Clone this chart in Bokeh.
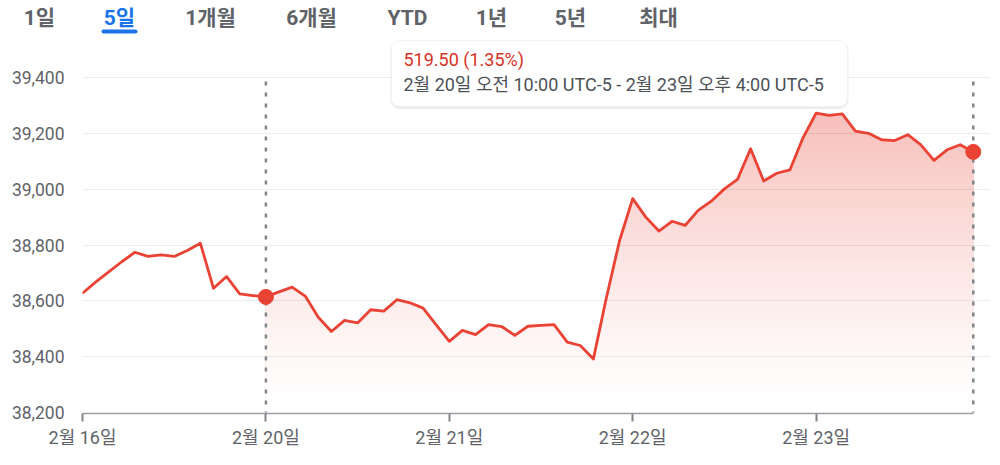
import numpy as np
from bokeh.plotting import figure
from bokeh.layouts import column, row
from bokeh.models import Range1d, FixedTicker, NumeralTickFormatter, Label, BoxAnnotation
from bokeh.core.properties import value
from bokeh.embed import file_html
from bokeh.resources import INLINE

# ---------------- data ----------------
values = [38627, 38667, 38704, 38740, 38774, 38759, 38765, 38759, 38780, 38806,
          38645, 38687, 38625, 38619,
          38614, 38632, 38649, 38617, 38541, 38490, 38530, 38521, 38568, 38563,
          38604, 38593, 38574, 38514,
          38455, 38494, 38479, 38515, 38508, 38476, 38509, 38512, 38515, 38452,
          38440, 38392, 38613, 38816,
          38966, 38900, 38850, 38885, 38870, 38924, 38957, 39001, 39035, 39145,
          39029, 39057, 39069, 39184,
          39272, 39264, 39270, 39208, 39200, 39177, 39174, 39195, 39159, 39103,
          39141, 39159, 39133.5]
day_labels = ["2월 16일", "2월 20일", "2월 21일", "2월 22일", "2월 23일"]
day_start_index = [0, 14, 28, 42, 56]
y_ticks = [38200, 38400, 38600, 38800, 39000, 39200, 39400]
tabs = ["1일", "5일", "1개월", "6개월", "YTD", "1년", "5년", "최대"]
selected_tab = "5일"
range_start_index = 14
change_text = "519.50 (1.35%)"
range_text = "2월 20일 오전 10:00 UTC-5 - 2월 23일 오후 4:00 UTC-5"

# ---------------- layout (screen px of the page) ----------------
PAGE_W = 1000
TAB_H = 36
X0, PX_PER_IDX = 82.0, 13.1          # screen x of index 0, px per sample
Y_REF_PX, Y_REF_VAL = 77.0, 39400.0  # screen y of the 39,400 gridline
UNIT_PER_PX = 1200.0 / 335.0
H = 465 - TAB_H
BL, BR, BT = 82, 10, 0
FRAME_BOTTOM_PX = 413
BB = H - (FRAME_BOTTOM_PX - TAB_H)

def dx(sx):
    return (sx - X0) / PX_PER_IDX

def dy(sy):
    return Y_REF_VAL - (sy - Y_REF_PX) * UNIT_PER_PX

RED = "#ea4335"
GREY = "#5f6368"
BLUE = "#1a73e8"
FONT = "Roboto, 'Noto Sans CJK KR'"

# ---------------- range tabs (top strip) ----------------
tab_centers_px = [39, 119, 210, 311, 407, 491, 570, 658]
t = figure(width=PAGE_W, height=TAB_H, x_range=Range1d(0, PAGE_W), y_range=Range1d(TAB_H, 0),
           output_backend="svg", toolbar_location=None, x_axis_type=None, y_axis_type=None,
           min_border_left=0, min_border_right=0, min_border_top=0, min_border_bottom=0)
t.outline_line_color = None
t.xgrid.grid_line_color = None
t.ygrid.grid_line_color = None
t.text(x=tab_centers_px, y=[17.5] * len(tabs), text=tabs,
       text_color=[BLUE if n == selected_tab else GREY for n in tabs],
       text_align="center", text_baseline="alphabetic",
       text_font=value(FONT), text_font_size="21px", text_font_style="bold")
sel_cx = tab_centers_px[tabs.index(selected_tab)]
t.segment(x0=[sel_cx - 16], x1=[sel_cx + 16], y0=[31], y1=[31],
          line_color=BLUE, line_width=4, line_cap="round")

# ---------------- main chart ----------------
frame_w = PAGE_W - BL - BR
frame_h = H - BT - BB
x_range = Range1d(0, frame_w / PX_PER_IDX)
y_top = dy(TAB_H + BT)
y_range = Range1d(y_top - frame_h * UNIT_PER_PX, y_top)

p = figure(width=PAGE_W, height=H, x_range=x_range, y_range=y_range,
           output_backend="svg", toolbar_location=None,
           min_border_left=BL, min_border_right=BR, min_border_top=BT, min_border_bottom=BB)
p.outline_line_color = None
p.background_fill_color = "white"
p.border_fill_color = "white"

idx = np.arange(len(values), dtype=float)
vals = np.array(values, dtype=float)
last = idx[-1]

# gradient fill under the selected range (stacked bands)
xs_f = idx[range_start_index:]
ys_f = vals[range_start_index:]
n_bands = 60
edges = np.linspace(y_ticks[0], ys_f.max(), n_bands + 1)
xx = list(xs_f)
for j in range(len(xs_f) - 1):
    a, b = ys_f[j], ys_f[j + 1]
    lo, hi = min(a, b), max(a, b)
    for e in edges:
        if lo < e < hi:
            xx.append(xs_f[j] + (e - a) / (b - a))
xx = np.unique(np.array(xx))
yy = np.interp(xx, xs_f, ys_f)
red_rgb = np.array([234, 67, 53], dtype=float)
for k in range(n_bands - 1, -1, -1):
    hi = edges[k + 1]
    tt = (edges[k] + edges[k + 1]) / 2
    tt = (tt - edges[0]) / (edges[-1] - edges[0])
    a = 0.34 * tt ** 1.3
    c = (255 * (1 - a) + red_rgb * a).round().astype(int)
    col = "#%02x%02x%02x" % tuple(c)
    p.varea(x=xx, y1=y_ticks[0], y2=np.minimum(yy, hi), fill_color=col, fill_alpha=1.0,
            level="underlay")

# axes & grid
p.xgrid.grid_line_color = None
p.ygrid.ticker = FixedTicker(ticks=y_ticks[1:])
p.ygrid.grid_line_color = "#000000"
p.ygrid.grid_line_alpha = 0.075
p.ygrid.bounds = (0, last)
p.ygrid.level = "glyph"

p.yaxis.ticker = FixedTicker(ticks=y_ticks)
p.yaxis.formatter = NumeralTickFormatter(format="0,0")
p.yaxis.axis_line_color = None
p.yaxis.major_tick_line_color = None
p.yaxis.minor_tick_line_color = None
p.yaxis.major_label_standoff = 12
p.yaxis.major_label_text_font = FONT
p.yaxis.major_label_text_font_size = "17.5px"
p.yaxis.major_label_text_color = GREY

p.xaxis.ticker = FixedTicker(ticks=day_start_index)
p.xaxis.major_label_overrides = {i: lab for i, lab in zip(day_start_index, day_labels)}
p.xaxis.bounds = (0, last)
p.xaxis.axis_line_color = "#9aa0a6"
p.xaxis.axis_line_width = 1.5
p.xaxis.major_tick_line_color = "#80868b"
p.xaxis.major_tick_line_width = 2
p.xaxis.major_tick_in = 0
p.xaxis.major_tick_out = 8
p.xaxis.minor_tick_line_color = None
p.xaxis.major_label_standoff = 5
p.xaxis.major_label_text_font = FONT
p.xaxis.major_label_text_font_size = "18px"
p.xaxis.major_label_text_color = GREY

# dashed range markers
p.segment(x0=[range_start_index, last], x1=[range_start_index, last],
          y0=[dy(81), dy(81)], y1=[y_ticks[0], y_ticks[0]],
          line_color="#80868b", line_width=2.5, line_dash="4 7")

# price line & end dots
p.line(idx, vals, line_color=RED, line_width=2.8, line_join="round")
p.scatter([range_start_index, last], [vals[range_start_index], vals[-1]],
          marker="circle", size=15, fill_color=RED, line_color=RED)

# tooltip
p.add_layout(BoxAnnotation(left=dx(390), right=dx(848), top=dy(40), bottom=dy(108.5),
                           fill_color="black", fill_alpha=0.07, line_color=None,
                           border_radius=9))
p.add_layout(BoxAnnotation(left=dx(391), right=dx(847), top=dy(40), bottom=dy(106),
                           fill_color="white", fill_alpha=1.0, line_color="#e3e3e3",
                           line_width=1, border_radius=8))
p.add_layout(Label(x=dx(403), y=dy(59), text=change_text, text_align="left",
                   text_baseline="alphabetic", text_font=FONT, text_font_size="18px",
                   text_color="#d93025"))
p.add_layout(Label(x=dx(403), y=dy(84), text=range_text, text_align="left",
                   text_baseline="alphabetic", text_font=FONT, text_font_size="18px",
                   text_color="#4d5156"))

layout = column(row(t), p, spacing=0)
open("out.html", "w").write(file_html(layout, INLINE))
